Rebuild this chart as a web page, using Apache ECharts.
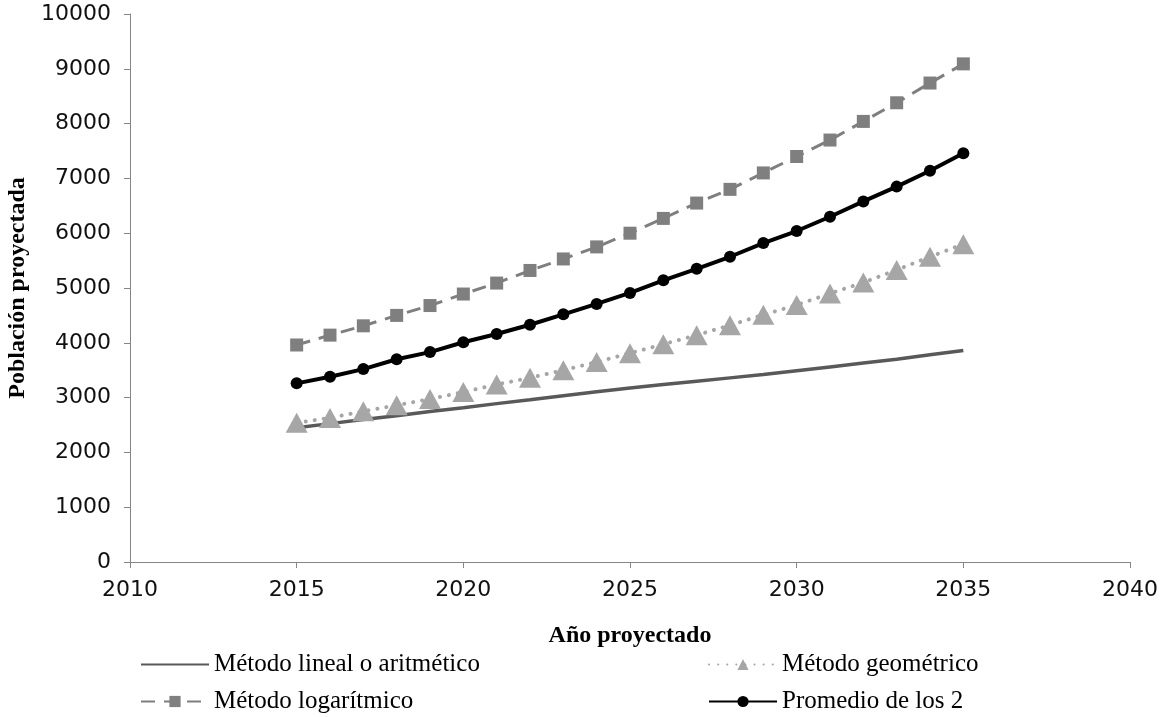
<!DOCTYPE html>
<html>
<head>
<meta charset="utf-8">
<script src="https://cdn.jsdelivr.net/npm/echarts@6/dist/echarts.min.js"></script>
<style>
  html, body { margin: 0; padding: 0; background: #fff; }
  #chart { width: 1165px; height: 717px; }
</style>
</head>
<body>
<div id="chart"></div>
<script>
// años proyectados
const years = [2015, 2016, 2017, 2018, 2019, 2020, 2021, 2022, 2023, 2024, 2025,
	2026, 2027, 2028, 2029, 2030, 2031, 2032, 2033, 2034, 2035]

const lineal = [2450, 2525, 2600, 2670, 2745, 2815, 2890, 2960, 3035, 3105, 3175,
	3240, 3300, 3360, 3420, 3490, 3560, 3630, 3700, 3780, 3860]
const geometrico = [2540, 2630, 2750, 2860, 2975, 3100, 3240, 3360, 3500, 3650, 3810,
	3975, 4140, 4320, 4510, 4690, 4900, 5100, 5330, 5570, 5800]
const logaritmico = [3960, 4140, 4310, 4500, 4680, 4890, 5090, 5320, 5530, 5750, 6000,
	6270, 6550, 6800, 7100, 7400, 7700, 8040, 8380, 8740, 9090]
const promedio = [3260, 3380, 3520, 3700, 3830, 4010, 4160, 4330, 4520, 4710, 4910,
	5140, 5350, 5570, 5820, 6040, 6300, 6580, 6850, 7140, 7460]

const xTicks = [2010, 2015, 2020, 2025, 2030, 2035, 2040]

const serieNames = ['Método lineal o aritmético', 'Método geométrico', 'Método logarítmico', 'Promedio de los 2']

const pairs = (vals) => years.map((y, i) => [y, vals[i]])

const chart = echarts.init(document.getElementById('chart'))

const legendText = { fontFamily: 'Liberation Serif', fontSize: 25, color: '#000' }
const legendBase = { itemWidth: 68, itemHeight: 14, itemGap: 0, textStyle: legendText, padding: 0 }

chart.setOption({
	animation: false,
	grid: { left: 130, right: 35, top: 14, bottom: 155, outerBoundsMode: 'none', containLabel: false },
	legend: [
		// la serie lineal no lleva marcador
		{ ...legendBase, data: [{ name: serieNames[0], itemStyle: { opacity: 0 } }], left: 140, top: 652 },
		{ ...legendBase, data: [serieNames[1]], left: 708, top: 652 },
		{ ...legendBase, data: [serieNames[2]], left: 140, top: 689 },
		{ ...legendBase, data: [serieNames[3]], left: 708, top: 689 }
	],
	xAxis: {
		type: 'value',
		min: xTicks[0],
		max: xTicks[xTicks.length - 1],
		interval: 5,
		name: 'Año proyectado',
		nameLocation: 'middle',
		nameGap: 62,
		nameTextStyle: { fontFamily: 'Liberation Serif', fontWeight: 'bold', fontSize: 24, color: '#000' },
		axisLine: { lineStyle: { color: '#868686', width: 1 } },
		axisTick: { length: 6, lineStyle: { color: '#868686' } },
		axisLabel: { fontFamily: 'DejaVu Sans', fontSize: 22, color: '#111', margin: 17, formatter: (v) => String(v) },
		splitLine: { show: false }
	},
	yAxis: {
		type: 'value',
		min: 0,
		max: 10000,
		interval: 1000,
		name: 'Población proyectada',
		nameLocation: 'middle',
		nameGap: 97,
		nameTextStyle: { fontFamily: 'Liberation Serif', fontWeight: 'bold', fontSize: 24, color: '#000' },
		axisLine: { show: true, lineStyle: { color: '#868686', width: 1 } },
		axisTick: { show: true, length: 6, lineStyle: { color: '#868686' } },
		axisLabel: { fontFamily: 'DejaVu Sans', fontSize: 22, color: '#111', margin: 19, formatter: (v) => String(v) },
		splitLine: { show: false }
	},
	series: [
		{
			name: serieNames[0],
			type: 'line',
			data: pairs(lineal),
			symbol: 'none',
			lineStyle: { color: '#595959', width: 3.5 },
			itemStyle: { color: '#595959' }
		},
		{
			name: serieNames[1],
			type: 'line',
			data: pairs(geometrico),
			symbol: 'triangle',
			symbolSize: [22, 20],
			lineStyle: { color: '#a6a6a6', width: 4, type: [0.1, 9], cap: 'round' },
			itemStyle: { color: '#a6a6a6' }
		},
		{
			name: serieNames[2],
			type: 'line',
			data: pairs(logaritmico),
			symbol: 'rect',
			symbolSize: 13,
			lineStyle: { color: '#7f7f7f', width: 3, type: [14, 9] },
			itemStyle: { color: '#7f7f7f' }
		},
		{
			name: serieNames[3],
			type: 'line',
			data: pairs(promedio),
			symbol: 'circle',
			symbolSize: 12,
			lineStyle: { color: '#000', width: 4 },
			itemStyle: { color: '#000' }
		}
	]
})
</script>
</body>
</html>
